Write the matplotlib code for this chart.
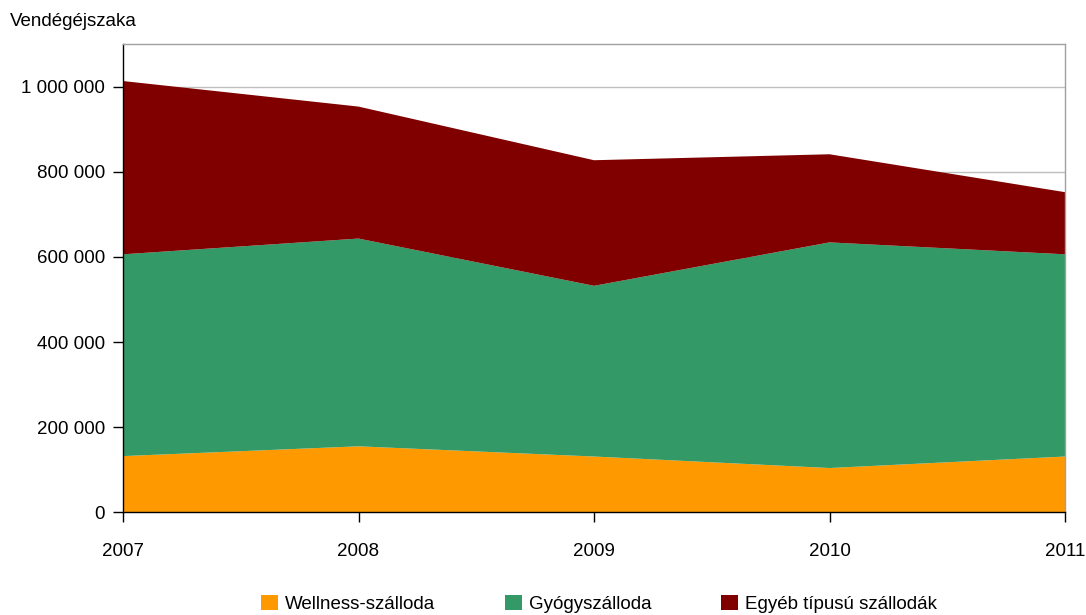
import matplotlib
matplotlib.use("Agg")
import matplotlib.pyplot as plt
from matplotlib.patches import Patch
from matplotlib.ticker import FuncFormatter

years = [2007, 2008, 2009, 2010, 2011]
wellness = [132000, 155000, 131000, 104000, 131000]
gyogy = [474000, 488000, 401000, 530000, 475000]
egyeb = [407000, 310000, 295000, 207000, 146000]
series_names = ["Wellness-szálloda", "Gyógyszálloda", "Egyéb típusú szállodák"]
colors = ["#FF9900", "#339966", "#800000"]
y_label = "Vendégéjszaka"
y_ticks = [0, 200000, 400000, 600000, 800000, 1000000]

plt.rcParams['font.family'] = ['Liberation Sans', 'DejaVu Sans']

fig = plt.figure(figsize=(10.86, 6.15), dpi=100)
ax = fig.add_axes([123/1086, 1 - 512.3/615, (1065 - 123)/1086, (512.3 - 44)/615])

ax.stackplot(years, wellness, gyogy, egyeb, colors=colors, labels=series_names,
             linewidth=0, zorder=2)

ax.set_xlim(years[0], years[-1])
ax.set_ylim(0, 1100000)
ax.set_yticks(y_ticks)
ax.set_xticks(years)
ax.yaxis.set_major_formatter(FuncFormatter(lambda v, p: f"{int(v):,}".replace(",", " ")))
ax.grid(axis='y', color='#BFBFBF', linewidth=1)
ax.set_axisbelow(True)

ax.spines['left'].set_color('black')
ax.spines['bottom'].set_color('black')
ax.spines['top'].set_color('#A0A0A0')
ax.spines['right'].set_color('#A0A0A0')
for s in ax.spines.values():
    s.set_linewidth(1)
    s.set_zorder(3)

ax.tick_params(axis='y', direction='out', length=7, width=1, labelsize=13.5, pad=6, colors='black')
ax.tick_params(axis='x', direction='out', length=7, width=1, labelsize=13.5, pad=15, colors='black')
for lbl in ax.get_xticklabels():
    lbl.set_clip_on(False)

fig.text(10/1086, 1 - 22/615, y_label, fontsize=13.5, ha='left', va='center')

handles = [Patch(facecolor=c, edgecolor='none') for c in colors]
fig.legend(handles, series_names, loc='center', bbox_to_anchor=(599/1086, 1 - 604/615),
           ncol=3, frameon=False, fontsize=13.5, handlelength=0.9, handleheight=0.9,
           handletextpad=0.4, columnspacing=3.7)

fig.savefig("out.png", dpi=100)
